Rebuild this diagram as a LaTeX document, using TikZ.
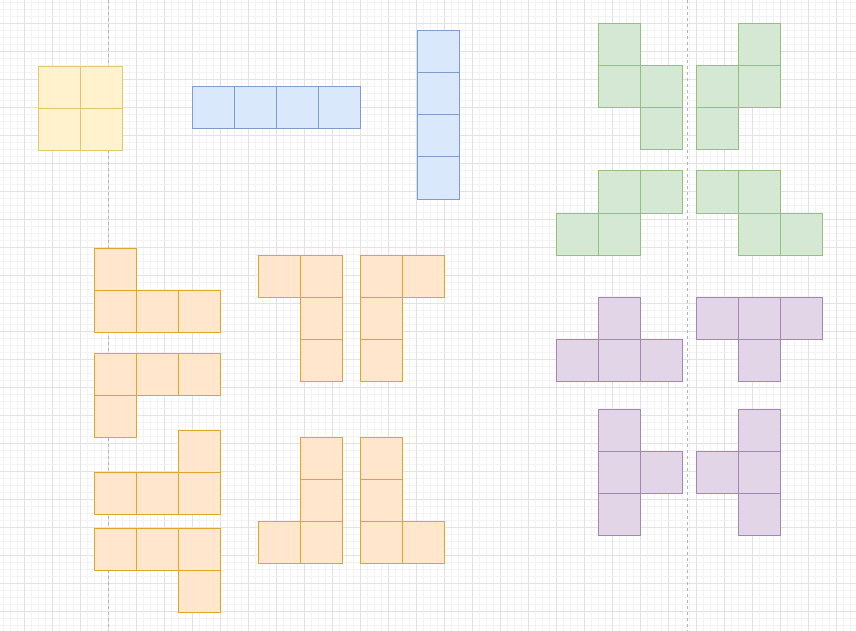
\documentclass[tikz,border=0pt]{standalone}
\definecolor{gridmajor}{HTML}{E2E2E2}
\definecolor{gridminor}{HTML}{F3F3F3}
\definecolor{guide}{HTML}{B3B3B3}
\definecolor{yellowfill}{HTML}{FFF2CC}\definecolor{yellowline}{HTML}{E5C76B}
\definecolor{bluefill}{HTML}{DAE8FC}\definecolor{blueline}{HTML}{7E9CCB}
\definecolor{greenfill}{HTML}{D5E8D4}\definecolor{greenline}{HTML}{93C07A}
\definecolor{purplefill}{HTML}{E1D5E7}\definecolor{purpleline}{HTML}{A486B4}
\definecolor{orangefill}{HTML}{FFE6CC}\definecolor{orangeline}{HTML}{E2A626}
\newcommand{\piece}[2]{\foreach \px/\py in {#2} \draw[#1] (\px,\py) rectangle ++(42,42);}
\begin{document}
\begin{tikzpicture}[x=1pt,y=-1pt,
  cell/.style={line width=1pt},
  ycell/.style={cell,fill=yellowfill,draw=yellowline},
  bcell/.style={cell,fill=bluefill,draw=blueline},
  gcell/.style={cell,fill=greenfill,draw=greenline},
  pcell/.style={cell,fill=purplefill,draw=purpleline},
  ocell/.style={cell,fill=orangefill,draw=orangeline}]
  \fill[white] (0,0) rectangle (856,631);
  \useasboundingbox (0,0) rectangle (856,631);
  \foreach \gx in {3.5,10.5,...,853.5} \draw[gridminor,line width=0.6pt] (\gx,0) -- (\gx,631);
  \foreach \gy in {2.3,9.3,...,629} \draw[gridminor,line width=0.6pt] (0,\gy) -- (856,\gy);
  \foreach \gx in {24.5,52.5,...,836.5} \draw[gridmajor,line width=0.8pt] (\gx,0) -- (\gx,631);
  \foreach \gy in {23.3,51.3,...,612} \draw[gridmajor,line width=0.8pt] (0,\gy) -- (856,\gy);
  \draw[guide,dashed,line width=0.8pt] (108,0) -- (108,631);
  \draw[guide,dashed,line width=0.8pt] (687.5,0) -- (687.5,631);
  \piece{ycell}{38.5/66.3,80.5/66.3,38.5/108.3,80.5/108.3}
  \piece{bcell}{192.5/87,234.5/87,276.5/87,318.5/87}
  \piece{bcell}{417/31,417/73,417/115,417/157}
  \piece{gcell}{598.3/24,598.3/66,640.3/66,640.3/108}
  \piece{gcell}{738.3/24,696.3/66,738.3/66,696.3/108}
  \piece{gcell}{598.3/171,640.3/171,556.3/213,598.3/213}
  \piece{gcell}{696.3/171,738.3/171,738.3/213,780.3/213}
  \piece{pcell}{598.3/297,556.3/339,598.3/339,640.3/339}
  \piece{pcell}{696.3/297,738.3/297,780.3/297,738.3/339}
  \piece{pcell}{598.3/409,598.3/451,640.3/451,598.3/493}
  \piece{pcell}{738.3/409,696.3/451,738.3/451,738.3/493}
  \piece{ocell}{94.3/248,94.3/290,136.3/290,178.3/290}
  \piece{ocell}{94.3/353.3,136.3/353.3,178.3/353.3,94.3/395.3}
  \piece{ocell}{178.3/430.3,94.3/472.3,136.3/472.3,178.3/472.3}
  \piece{ocell}{94.3/528.3,136.3/528.3,178.3/528.3,178.3/570.3}
  \piece{ocell}{258.3/255,300.3/255,300.3/297,300.3/339}
  \piece{ocell}{360.3/255,402.3/255,360.3/297,360.3/339}
  \piece{ocell}{300.3/437.3,300.3/479.3,258.3/521.3,300.3/521.3}
  \piece{ocell}{360.3/437.3,360.3/479.3,360.3/521.3,402.3/521.3}
\end{tikzpicture}
\end{document}
